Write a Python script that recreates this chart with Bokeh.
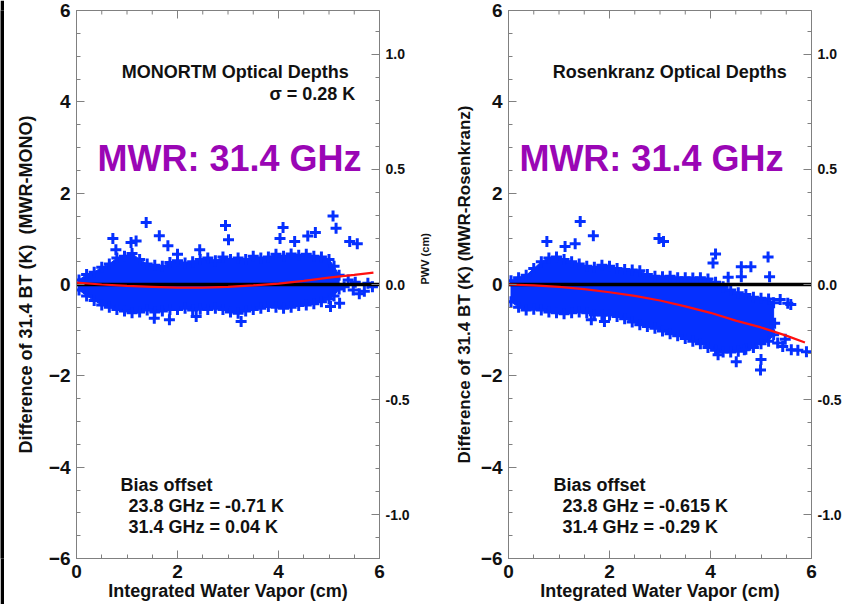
import math
from bokeh.plotting import figure
from bokeh.models import (Range1d, LinearAxis, FixedTicker, PrintfTickFormatter, Label)
from bokeh.layouts import row
from bokeh.embed import file_html
from bokeh.resources import INLINE

# ---------------- data ----------------
# Left panel: MWR - MONORTM, 31.4 GHz
LEFT_EDGE_X = [0.05, 0.2, 0.35, 0.5, 0.65, 0.8, 0.95, 1.1, 1.25, 1.4, 1.55, 1.7,
               1.85, 2.0, 2.15, 2.3, 2.45, 2.6, 2.75, 2.9, 3.05, 3.2, 3.35, 3.5,
               3.65, 3.8, 3.95, 4.1, 4.25, 4.4, 4.55, 4.7, 4.85, 5.0, 5.1, 5.2]
LEFT_UPPER = [0.10, 0.22, 0.27, 0.38, 0.45, 0.58, 0.62, 0.68, 0.55, 0.45, 0.42, 0.40,
              0.48, 0.52, 0.47, 0.50, 0.55, 0.58, 0.52, 0.60, 0.55, 0.58, 0.55, 0.62,
              0.58, 0.60, 0.66, 0.62, 0.67, 0.64, 0.66, 0.62, 0.60, 0.55, 0.40, 0.20]
LEFT_LOWER = [-0.12, -0.25, -0.35, -0.45, -0.50, -0.55, -0.58, -0.62, -0.60, -0.56, -0.60, -0.58,
              -0.55, -0.55, -0.52, -0.56, -0.54, -0.55, -0.52, -0.55, -0.60, -0.63, -0.58, -0.55,
              -0.52, -0.48, -0.50, -0.52, -0.50, -0.46, -0.45, -0.42, -0.38, -0.32, -0.25, -0.10]
LEFT_OUT_X = [0.72, 1.38, 1.64, 1.81, 1.08, 1.18, 0.78, 2.00, 2.44, 2.95, 3.01, 4.09,
              4.03, 4.32, 4.58, 4.73, 5.08, 5.14, 5.41, 5.56,
              1.84, 2.37, 3.26, 5.21, 5.03, 1.54,
              5.30, 5.38, 5.48, 5.60, 5.70, 5.77, 5.86, 5.52]
LEFT_OUT_Y = [1.01, 1.36, 1.07, 0.85, 0.92, 0.95, 0.76, 0.66, 0.76, 1.29, 0.98, 1.25,
              1.01, 0.94, 1.06, 1.14, 1.50, 1.23, 0.94, 0.89,
              -0.77, -0.70, -0.81, -0.41, -0.48, -0.74,
              -0.05, 0.10, -0.12, -0.20, -0.15, 0.03, -0.05, 0.05]
LEFT_FIT_X = [0.0, 0.5, 1.0, 1.5, 2.0, 2.5, 3.0, 3.5, 4.0, 4.5, 5.0, 5.5, 5.88]
LEFT_FIT_Y = [0.04, 0.0, -0.03, -0.05, -0.07, -0.07, -0.05, -0.02, 0.02, 0.08, 0.15, 0.21, 0.26]

# Right panel: MWR - Rosenkranz, 31.4 GHz
RIGHT_EDGE_X = [0.05, 0.2, 0.35, 0.5, 0.65, 0.8, 0.95, 1.1, 1.25, 1.4, 1.55, 1.7,
                1.85, 2.0, 2.15, 2.3, 2.45, 2.6, 2.75, 2.9, 3.05, 3.2, 3.35, 3.5,
                3.65, 3.8, 3.95, 4.1, 4.25, 4.4, 4.55, 4.7, 4.85, 5.0, 5.15, 5.25]
RIGHT_UPPER = [0.08, 0.15, 0.20, 0.35, 0.50, 0.58, 0.60, 0.55, 0.50, 0.45, 0.40, 0.38,
               0.42, 0.40, 0.35, 0.33, 0.32, 0.30, 0.22, 0.18, 0.17, 0.18, 0.15, 0.15,
               0.14, 0.15, 0.12, 0.05, -0.05, -0.12, -0.18, -0.22, -0.28, -0.30, -0.32, -0.40]
RIGHT_LOWER = [-0.38, -0.50, -0.56, -0.54, -0.56, -0.60, -0.62, -0.64, -0.62, -0.60, -0.62, -0.66,
               -0.67, -0.67, -0.70, -0.75, -0.82, -0.88, -0.92, -0.96, -1.02, -1.08, -1.12, -1.18,
               -1.24, -1.30, -1.38, -1.44, -1.48, -1.48, -1.46, -1.42, -1.38, -1.30, -1.24, -1.10]
RIGHT_OUT_X = [1.42, 1.68, 0.76, 1.12, 1.32, 2.98, 3.07, 4.10, 4.05, 4.61, 4.80, 4.61,
               5.14, 5.17, 4.35,
               1.64, 1.90, 4.99, 4.51, 5.00, 5.27, 5.53, 5.59, 4.15, 4.67,
               5.33, 5.43, 5.60, 5.73, 5.90, 5.38, 5.48]
RIGHT_OUT_Y = [1.38, 1.07, 0.94, 0.83, 0.89, 1.01, 0.94, 0.67, 0.47, 0.39, 0.39, 0.17,
               0.60, 0.17, 0.16,
               -0.77, -0.81, -1.87, -1.69, -1.64, -0.85, -0.41, -0.44, -1.54, -1.43,
               -1.28, -1.36, -1.43, -1.44, -1.47, -0.33, -1.20]
RIGHT_FIT_X = [0.0, 0.5, 1.0, 1.5, 2.0, 2.5, 3.0, 3.5, 4.0, 4.5, 5.0, 5.5, 5.87]
RIGHT_FIT_Y = [0.0, -0.02, -0.05, -0.10, -0.17, -0.25, -0.35, -0.48, -0.62, -0.79, -0.94, -1.12, -1.27]

X_MIN, X_MAX = 0, 6
Y_MIN, Y_MAX = -6, 6
PWV_MIN, PWV_MAX = -1.19, 1.19

X_TICKS = [0, 2, 4, 6]
X_MINOR = [0.5, 1, 1.5, 2.5, 3, 3.5, 4.5, 5, 5.5]
Y_TICKS = [-6, -4, -2, 0, 2, 4, 6]
PWV_TICKS = [-1.0, -0.5, 0.0, 0.5, 1.0]

FONT = "Liberation Sans"
BLUE = "#0530FF"
PURPLE = "#9A06B5"
GRAY = "#808080"
INK = "#111111"


def style_axis(ax, label_size="19px"):
    ax.axis_line_color = GRAY
    ax.major_tick_line_color = GRAY
    ax.minor_tick_line_color = GRAY
    ax.major_tick_in = 8
    ax.major_tick_out = 0
    ax.minor_tick_in = 4
    ax.minor_tick_out = 0
    ax.major_label_text_font = FONT
    ax.major_label_text_font_style = "bold"
    ax.major_label_text_font_size = label_size
    ax.major_label_text_color = INK
    ax.axis_label_text_font = FONT
    ax.axis_label_text_font_style = "bold"
    ax.axis_label_text_color = INK


def add_label(p, x, y, text, align, size, color=INK):
    p.add_layout(Label(x=x, y=y, text=text, text_align=align, text_baseline="middle",
                       text_font=FONT, text_font_style="bold", text_font_size=size,
                       text_color=color))


def make_panel(width, mb_left, mb_right, edge_x, upper, lower, out_x, out_y,
               fit_x, fit_y, ylabel, ylabel_size, ylabel_standoff, title, title_x,
               title_right, sigma_text, bias_x, bias_lines, right_label):
    p = figure(width=width, height=604, output_backend="svg", toolbar_location=None,
               x_range=Range1d(X_MIN, X_MAX), y_range=Range1d(Y_MIN, Y_MAX),
               min_border_left=mb_left, min_border_right=mb_right,
               min_border_top=10, min_border_bottom=46)
    p.grid.visible = False
    p.outline_line_color = GRAY
    p.background_fill_color = "white"
    p.border_fill_color = "white"

    # dense cloud core
    px = list(edge_x) + list(reversed(edge_x))
    py = list(upper) + list(reversed(lower))
    p.patch(px, py, fill_color=BLUE, line_color=BLUE, line_width=1)
    # crosses on the edges of the cloud and scattered points
    sx = list(edge_x) + list(edge_x) + list(out_x)
    sy = list(upper) + list(lower) + list(out_y)
    p.scatter(sx, sy, marker="cross", size=11, line_width=3, line_color=BLUE)

    p.line([X_MIN, X_MAX], [0, 0], line_color="black", line_width=3.5)
    p.line(fit_x, fit_y, line_color="#FF1010", line_width=2.2)

    # inward ticks along the top frame edge (clipped to the frame)
    p.scatter(X_TICKS, [Y_MAX] * len(X_TICKS), marker="dash", angle=math.pi / 2,
              size=16, line_color=GRAY, line_width=1)
    p.scatter(X_MINOR, [Y_MAX] * len(X_MINOR), marker="dash", angle=math.pi / 2,
              size=8, line_color=GRAY, line_width=1)

    # axes
    p.xaxis.ticker = FixedTicker(ticks=X_TICKS, minor_ticks=[i * 0.5 for i in range(13)])
    p.yaxis.ticker = FixedTicker(ticks=Y_TICKS, minor_ticks=[-6 + i * 0.5 for i in range(25)])
    style_axis(p.xaxis[0])
    style_axis(p.yaxis[0])
    p.xaxis.axis_label = "Integrated Water Vapor (cm)"
    p.xaxis.axis_label_text_font_size = "18px"
    p.xaxis.major_label_standoff = 6
    p.xaxis.axis_label_standoff = 0
    p.yaxis.axis_label = ylabel
    p.yaxis.axis_label_text_font_size = ylabel_size
    p.yaxis.major_label_standoff = 6
    p.yaxis.axis_label_standoff = ylabel_standoff

    p.extra_y_ranges = {"pwv": Range1d(PWV_MIN, PWV_MAX)}
    rax = LinearAxis(y_range_name="pwv",
                     ticker=FixedTicker(ticks=PWV_TICKS,
                                        minor_ticks=[-1.1 + i * 0.1 for i in range(23)]),
                     formatter=PrintfTickFormatter(format="%.1f"))
    style_axis(rax, "14px")
    rax.major_label_standoff = 6
    if right_label:
        rax.axis_label = right_label
        rax.axis_label_text_font_size = "11px"
        rax.axis_label_standoff = 12
        rax.axis_label_orientation = math.pi / 2
    p.add_layout(rax, "right")

    # texts
    add_label(p, title_right, 4.66, title, "right", "18px")
    if sigma_text:
        add_label(p, 5.52, 4.18, sigma_text, "right", "18px")
    add_label(p, title_x, 2.76, "MWR: 31.4 GHz", "center", "36px", PURPLE)
    add_label(p, bias_x[0], -4.38, "Bias offset", "left", "18px")
    for txt, yy in zip(bias_lines, [-4.86, -5.30]):
        add_label(p, bias_x[1], yy, txt, "left", "18px")
    return p


bar = figure(width=4, height=604, output_backend="svg", toolbar_location=None,
             x_axis_type=None, y_axis_type=None, min_border=0,
             background_fill_color="black", border_fill_color="black")
bar.outline_line_color = None
bar.grid.visible = False

p1 = make_panel(446, 72, 71, LEFT_EDGE_X, LEFT_UPPER, LEFT_LOWER, LEFT_OUT_X, LEFT_OUT_Y,
                LEFT_FIT_X, LEFT_FIT_Y,
                "Difference of 31.4 BT (K)\u00a0 (MWR-MONO)", "18px", 10,
                "MONORTM Optical Depths", 3.03, 5.39, "\u03c3 = 0.28 K",
                (0.87, 1.03), ["23.8 GHz = -0.71 K", "31.4 GHz = 0.04 K"],
                "PWV (cm)")
p2 = make_panel(394, 58, 32, RIGHT_EDGE_X, RIGHT_UPPER, RIGHT_LOWER, RIGHT_OUT_X, RIGHT_OUT_Y,
                RIGHT_FIT_X, RIGHT_FIT_Y,
                "Difference of 31.4 BT (K) (MWR-Rosenkranz)", "17px", 4,
                "Rosenkranz Optical Depths", 2.83, 5.51, None,
                (0.89, 1.07), ["23.8 GHz = -0.615 K", "31.4 GHz = -0.29 K"],
                None)

layout = row(bar, p1, p2, spacing=0)
open("out.html", "w").write(file_html(layout, INLINE))
